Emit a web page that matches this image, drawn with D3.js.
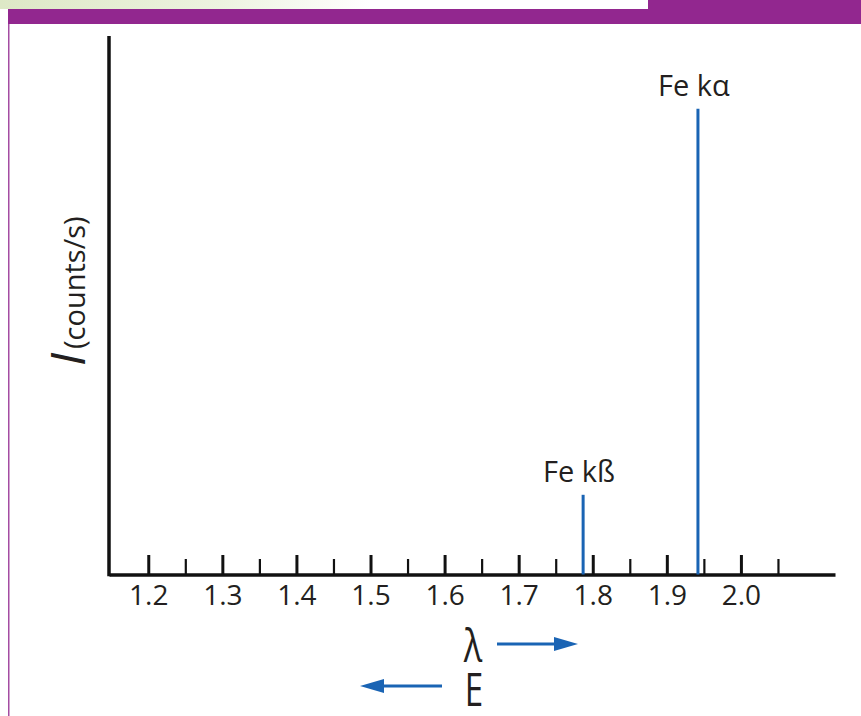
<!DOCTYPE html>
<html>
<head>
<meta charset="utf-8">
<script src="https://cdn.jsdelivr.net/npm/d3@7"></script>
<style>
  html, body { margin: 0; padding: 0; background: #fff; }
  svg { display: block; font-family: "Open Sans", sans-serif; }
</style>
</head>
<body>
<svg id="chart" width="861" height="716"></svg>
<script>
// --- data ---
const majorTicks = [1.2, 1.3, 1.4, 1.5, 1.6, 1.7, 1.8, 1.9, 2.0];
const minorTicks = [1.25, 1.35, 1.45, 1.55, 1.65, 1.75, 1.85, 1.95, 2.05];
const peakNames = ["Fe kß", "Fe kα"];
const peakLambda = [1.787, 1.942];
const peakIntensity = [14.8, 86.5];

const purple = "#92278f";
const blue = "#1a64b4";

const svg = d3.select("#chart");

// --- page frame (header band + left rule) ---
const defs = svg.append("defs");
const grad = defs.append("linearGradient").attr("id", "greenFade");
grad.append("stop").attr("offset", "0%").attr("stop-color", "#dde8c6");
grad.append("stop").attr("offset", "60%").attr("stop-color", "#edf3e0");
grad.append("stop").attr("offset", "100%").attr("stop-color", "#ffffff");

svg.append("rect").attr("x", 0).attr("y", 0).attr("width", 370).attr("height", 9).attr("fill", "url(#greenFade)");
svg.append("rect").attr("x", 648).attr("y", 0).attr("width", 213).attr("height", 9).attr("fill", purple);
svg.append("rect").attr("x", 8).attr("y", 9).attr("width", 853).attr("height", 15).attr("fill", purple);
svg.append("rect").attr("x", 8).attr("y", 24).attr("width", 1.5).attr("height", 692).attr("fill", "#a44ca2");

// --- scales ---
const x = d3.scaleLinear().domain([1.147, 2.127]).range([109, 835]);
const y = d3.scaleLinear().domain([0, 100]).range([574.5, 36]);

// --- axes ---
const gMinor = svg.append("g")
    .attr("transform", `translate(0,${y(0)})`)
    .call(d3.axisBottom(x).tickValues(minorTicks).tickSize(-15.5).tickSizeOuter(0).tickFormat(""));
gMinor.select(".domain").remove();
gMinor.selectAll(".tick line").attr("stroke", "#111").attr("stroke-width", 2.2);

const gx = svg.append("g")
    .attr("transform", `translate(0,${y(0)})`)
    .call(d3.axisBottom(x).tickValues(majorTicks).tickSize(-19.5).tickSizeOuter(0).tickFormat(d3.format(".1f")));
gx.select(".domain").attr("stroke", "#111").attr("stroke-width", 3.5);
gx.selectAll(".tick line").attr("stroke", "#111").attr("stroke-width", 3);
gx.selectAll(".tick text")
    .attr("y", 30.5).attr("dy", 0)
    .attr("fill", "#231f20")
    .style("font-size", "28px")
    .style("font-family", "'Open Sans', sans-serif");

// y axis (no ticks)
svg.append("line")
    .attr("x1", x.range()[0]).attr("x2", x.range()[0])
    .attr("y1", y(100)).attr("y2", y(0) + 1.75)
    .attr("stroke", "#111").attr("stroke-width", 3.5);

// --- peaks ---
const peaks = peakNames.map((n, i) => ({ name: n, lambda: peakLambda[i], intensity: peakIntensity[i] }));

svg.selectAll(".peak")
    .data(peaks).join("line")
    .attr("class", "peak")
    .attr("x1", d => x(d.lambda)).attr("x2", d => x(d.lambda))
    .attr("y1", y(0)).attr("y2", d => y(d.intensity))
    .attr("stroke", blue).attr("stroke-width", 3);

svg.selectAll(".peak-label")
    .data(peaks).join("text")
    .attr("class", "peak-label")
    .attr("x", d => x(d.lambda) - 4)
    .attr("y", d => y(d.intensity) - 13)
    .attr("text-anchor", "middle")
    .attr("fill", "#231f20")
    .style("font-size", "29px")
    .text(d => d.name);

// --- y label ---
const yl = svg.append("text")
    .attr("transform", "translate(85,366) rotate(-90)")
    .attr("fill", "#231f20");
yl.append("tspan").style("font-size", "48px").style("font-style", "italic").text("I");
yl.append("tspan").attr("dx", 4).style("font-size", "29px").text("(counts/s)");

// --- λ / E direction arrows ---
function arrow(x1, x2, yy) {
    const dir = Math.sign(x2 - x1);
    const headLen = 24, half = 7;
    const g = svg.append("g");
    g.append("line")
        .attr("x1", x1).attr("x2", x2 - dir * headLen + dir * 2)
        .attr("y1", yy).attr("y2", yy)
        .attr("stroke", blue).attr("stroke-width", 3);
    g.append("path")
        .attr("d", `M${x2},${yy} L${x2 - dir * headLen},${yy - half} L${x2 - dir * headLen},${yy + half} Z`)
        .attr("fill", blue);
}

svg.append("text")
    .attr("transform", "translate(473,662) scale(0.75,1)")
    .attr("text-anchor", "middle")
    .attr("fill", "#231f20")
    .style("font-size", "46px")
    .text("λ");
arrow(497, 578, 644);

svg.append("text")
    .attr("transform", "translate(474,706) scale(0.72,1)")
    .attr("text-anchor", "middle")
    .attr("fill", "#231f20")
    .style("font-size", "46px")
    .text("E");
arrow(442, 360, 686);
</script>
</body>
</html>
